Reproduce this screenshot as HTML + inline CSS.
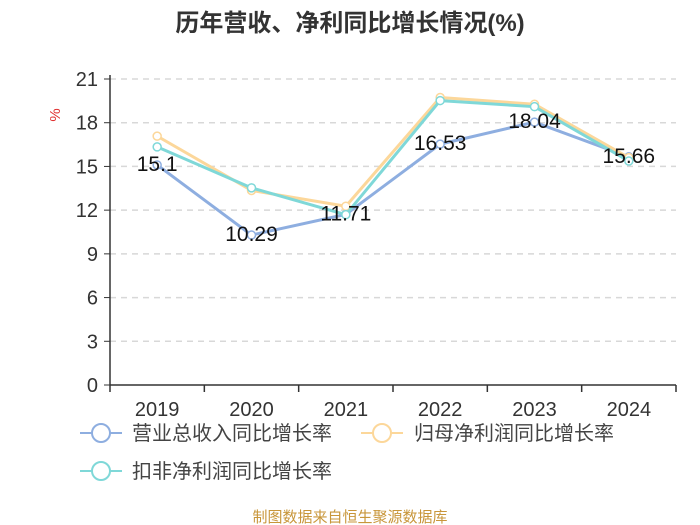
<!DOCTYPE html>
<html><head><meta charset="utf-8"><style>
body{margin:0;background:#fff;}
svg{display:block;font-family:"Liberation Sans","Noto Sans CJK SC",sans-serif;}
</style></head><body>
<svg id="chart" width="700" height="525" xmlns="http://www.w3.org/2000/svg">
<text x="350" y="31" text-anchor="middle" font-size="24" font-weight="bold" fill="#333">历年营收、净利同比增长情况(%)</text>
<text x="0" y="0" transform="translate(60,115) rotate(-90)" text-anchor="middle" font-size="15" fill="#e03030">%</text>
<g id="grid"></g><g id="axes"></g><g id="series"></g><g id="labels"></g>
<g>
<g><line x1="80" y1="433" x2="122" y2="433" stroke="#8eaee0" stroke-width="2"/><circle cx="101" cy="433" r="9" fill="#fff" stroke="#8eaee0" stroke-width="2"/><text x="132" y="440" font-size="20" fill="#444">营业总收入同比增长率</text></g>
<g><line x1="361" y1="433" x2="403" y2="433" stroke="#fcd79a" stroke-width="2"/><circle cx="382" cy="433" r="9" fill="#fff" stroke="#fcd79a" stroke-width="2"/><text x="414" y="440" font-size="20" fill="#444">归母净利润同比增长率</text></g>
<g><line x1="80" y1="471" x2="122" y2="471" stroke="#7fd8d8" stroke-width="2"/><circle cx="101" cy="471" r="9" fill="#fff" stroke="#7fd8d8" stroke-width="2"/><text x="132" y="478" font-size="20" fill="#444">扣非净利润同比增长率</text></g>
</g>
<text x="350" y="522" text-anchor="middle" font-size="15" fill="#c8963a">制图数据来自恒生聚源数据库</text>
</svg>
<script>
const categories=["2019","2020","2021","2022","2023","2024"];
const revenue=[15.1,10.29,11.71,16.53,18.04,15.66];
const netProfit=[17.08,13.35,12.27,19.73,19.27,15.6];
const deducted=[16.34,13.53,11.69,19.52,19.1,15.37];
const yTicks=[0,3,6,9,12,15,18,21];
const NS="http://www.w3.org/2000/svg";
const X0=110,X1=676,Y0=385,Y1=79,YMAX=21;
const band=(X1-X0)/categories.length;
const xs=i=>X0+band*(i+0.5);
const ys=v=>Y0-(v/YMAX)*(Y0-Y1);
function mk(t,a,p){const e=document.createElementNS(NS,t);for(const k in a)e.setAttribute(k,a[k]);p.appendChild(e);return e;}
const grid=document.getElementById('grid'),axes=document.getElementById('axes');
yTicks.forEach(v=>{
 if(v>0){const g=mk('line',{x1:X0,x2:X1,y1:ys(v),y2:ys(v),stroke:'#d8d8d8','stroke-dasharray':'6,5','stroke-width':1.5},grid);
 
 }
 const tk=mk('line',{x1:X0-6,x2:X0,y1:ys(v),y2:ys(v),stroke:'#333'},axes);
 
 
 const t=mk('text',{x:X0-12,y:ys(v)+7,'text-anchor':'end','font-size':20,fill:'#333'},axes);t.textContent=v;
 
 
});
const ya=mk('line',{x1:X0,x2:X0,y1:Y1-4,y2:Y0,stroke:'#333','stroke-width':1.5},axes);


const xa=mk('line',{x1:X0,x2:X1,y1:Y0,y2:Y0,stroke:'#333','stroke-width':1.5},axes);


for(let i=0;i<=categories.length;i++){const l=mk('line',{x1:X0+band*i,x2:X0+band*i,y1:Y0,y2:Y0+7,stroke:'#333','stroke-width':1.5},axes);
 
 }
categories.forEach((c,i)=>{const t=mk('text',{x:xs(i),y:Y0+31,'text-anchor':'middle','font-size':20,fill:'#333'},axes);t.textContent=c;
 
 });
const ser=document.getElementById('series');
function draw(data,color,name){
 const g=mk('g',{},ser);
 
 
 const pl=mk('polyline',{points:data.map((v,i)=>xs(i)+','+ys(v)).join(' '),fill:'none',stroke:color,'stroke-width':3,'stroke-linejoin':'round'},g);
 
 
 data.forEach((v,i)=>{const c=mk('circle',{cx:xs(i),cy:ys(v),r:4,fill:'#fff',stroke:color,'stroke-width':1.5},g);
  
  });
}
draw(revenue,'#8eaee0','revenue-series');
draw(netProfit,'#fcd79a','net-profit-series');
draw(deducted,'#7fd8d8','deducted-profit-series');
const lab=document.getElementById('labels');
revenue.forEach((v,i)=>{const t=mk('text',{x:xs(i),y:ys(v)+6,'text-anchor':'middle','font-size':21,fill:'#111'},lab);t.textContent=v;
 
 });
</script>
</body></html>
